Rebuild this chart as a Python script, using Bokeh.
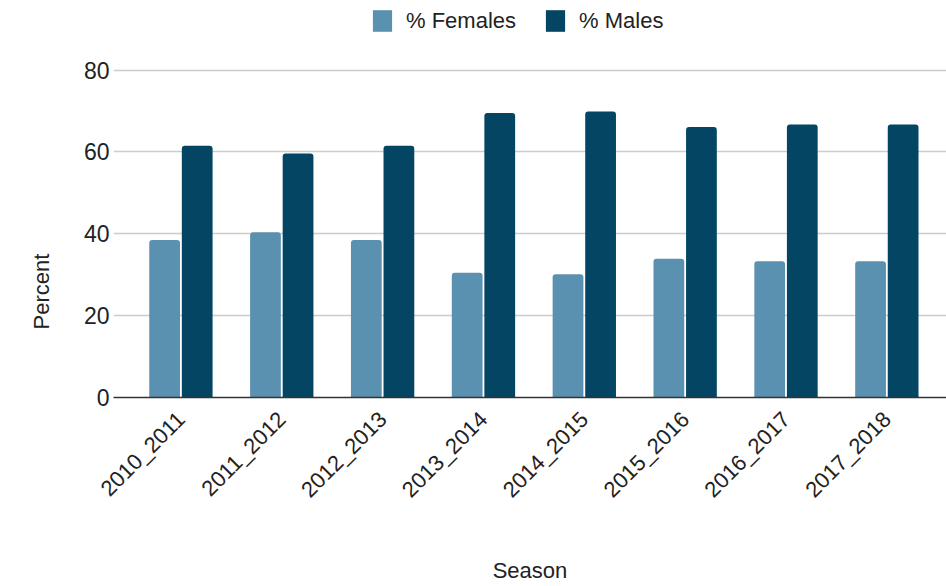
import math
from bokeh.plotting import figure
from bokeh.models import (ColumnDataSource, Range1d, FixedTicker, Legend, LegendItem,
                          Title)
from bokeh.transform import dodge
from bokeh.embed import file_html
from bokeh.resources import INLINE

seasons = ["2010_2011", "2011_2012", "2012_2013", "2013_2014",
           "2014_2015", "2015_2016", "2016_2017", "2017_2018"]
females = [38.5, 40.4, 38.5, 30.5, 30.1, 33.9, 33.3, 33.3]
males = [61.5, 59.6, 61.5, 69.5, 69.9, 66.1, 66.7, 66.7]
y_ticks = [0, 20, 40, 60, 80]

FONT = "Liberation Sans"
F_COLOR = "#5b91b0"
M_COLOR = "#034562"

idx = list(range(len(seasons)))
src = ColumnDataSource(dict(x=idx, season=seasons, females=females, males=males))

p = figure(width=946, height=586, output_backend="svg", toolbar_location=None,
           x_range=Range1d(-0.67, 7.59), y_range=Range1d(0, 97.0),
           min_border_left=113, min_border_right=0, min_border_top=0,
           min_border_bottom=0)
p.outline_line_color = None
p.background_fill_color = "white"
p.border_fill_color = "white"

rf = p.vbar(x=dodge("x", -0.163, range=p.x_range), top="females", width=0.305,
            source=src, fill_color=F_COLOR, line_color=None, border_radius=(3, 3, 0, 0))
rm = p.vbar(x=dodge("x", 0.16, range=p.x_range), top="males", width=0.305,
            source=src, fill_color=M_COLOR, line_color=None, border_radius=(3, 3, 0, 0))

# x axis
p.xaxis.ticker = FixedTicker(ticks=idx)
p.xaxis.major_label_overrides = {i: s for i, s in zip(idx, seasons)}
p.xaxis.major_label_orientation = math.pi / 4
p.xaxis.major_label_text_font = FONT
p.xaxis.major_label_text_font_size = "22px"
p.xaxis.major_label_text_color = "#222222"
p.xaxis.major_tick_line_color = None
p.xaxis.major_tick_out = 0
p.xaxis.minor_tick_line_color = None
p.xaxis.axis_line_color = "#333333"
p.xaxis.axis_line_width = 1.5
p.xaxis.major_label_standoff = 18
p.xaxis.axis_label = "Season"
p.xaxis.axis_label_text_font = FONT
p.xaxis.axis_label_text_font_size = "22px"
p.xaxis.axis_label_text_font_style = "normal"
p.xaxis.axis_label_text_color = "#222222"
p.xaxis.axis_label_standoff = 44
p.xgrid.grid_line_color = None

# y axis
p.yaxis.ticker = FixedTicker(ticks=y_ticks)
p.yaxis.major_label_text_font = FONT
p.yaxis.major_label_text_font_size = "23px"
p.yaxis.major_label_text_color = "#222222"
p.yaxis.major_tick_line_color = None
p.yaxis.major_tick_out = 0
p.yaxis.minor_tick_line_color = None
p.yaxis.axis_line_color = None
p.yaxis.major_label_standoff = 4
p.ygrid.grid_line_color = "#cccccc"
p.ygrid.grid_line_width = 1.5

# y axis title, placed like the reference (lower than the frame centre)
p.add_layout(Title(text="Percent", align="left", offset=68, standoff=50,
                   vertical_align="top",
                   text_font=FONT, text_font_size="22px", text_font_style="normal",
                   text_color="#222222"), "left")

legend = Legend(items=[LegendItem(label="% Females", renderers=[rf]),
                       LegendItem(label="% Males", renderers=[rm])],
                orientation="horizontal", location=(257, 363),
                label_text_font=FONT, label_text_font_size="22px",
                label_text_color="#222222", glyph_width=24, glyph_height=27,
                label_standoff=12, spacing=27, padding=0, margin=0,
                border_line_color=None, background_fill_alpha=0)
p.add_layout(legend, "center")

open("out.html", "w").write(file_html(p, INLINE))
